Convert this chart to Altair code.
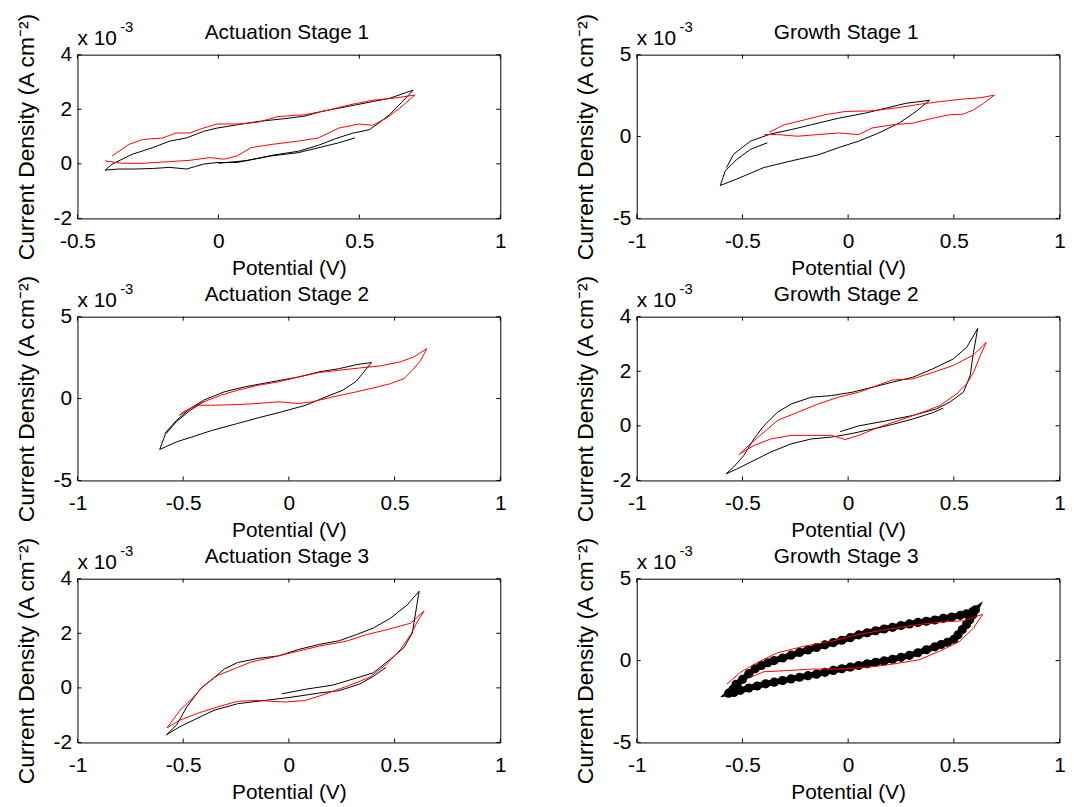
import altair as alt
import pandas as pd

FONT = "Liberation Sans"

# ---------------- data (current density in units of 1e-3 A cm^-2) ----------------
A1_BLACK_V = [0.484, 0.427, 0.355, 0.283, 0.187, 0.115, 0.067, -0.005, -0.053, -0.113, -0.173, -0.233, -0.293, -0.353, -0.402,
              -0.377, -0.306, -0.234, -0.173, -0.113, -0.053, -0.005, 0.067, 0.139, 0.247, 0.307, 0.367, 0.427, 0.487, 0.547, 0.607, 0.691,
              0.650, 0.607, 0.570, 0.535, 0.475, 0.415, 0.355, 0.283, 0.200, 0.100, 0.000]
A1_BLACK_J = [0.95, 0.77, 0.59, 0.41, 0.29, 0.15, 0.05, 0.05, -0.01, -0.19, -0.13, -0.17, -0.19, -0.19, -0.23,
              -0.01, 0.35, 0.59, 0.83, 0.95, 1.19, 1.31, 1.43, 1.55, 1.67, 1.75, 1.92, 2.04, 2.16, 2.28, 2.40, 2.70,
              2.25, 1.80, 1.50, 1.25, 1.12, 0.92, 0.68, 0.46, 0.33, 0.12, 0.02]
A1_RED_V = [-0.377, -0.318, -0.270, -0.198, -0.150, -0.101, -0.053, -0.005, 0.067, 0.139, 0.210, 0.307, 0.378, 0.474, 0.547, 0.619, 0.697,
            0.643, 0.595, 0.547, 0.499, 0.427, 0.355, 0.283, 0.187, 0.115, 0.067, 0.019, -0.029, -0.101, -0.173, -0.270, -0.342, -0.402]
A1_RED_J = [0.29, 0.71, 0.89, 0.95, 1.13, 1.13, 1.31, 1.46, 1.46, 1.52, 1.73, 1.80, 1.94, 2.18, 2.33, 2.40, 2.52,
            2.04, 1.67, 1.41, 1.46, 1.31, 0.95, 0.83, 0.71, 0.59, 0.29, 0.17, 0.23, 0.13, 0.08, 0.02, 0.02, 0.11]

G1_BLACK_V = [-0.382, -0.462, -0.526, -0.581, -0.605, -0.526, -0.398, -0.270, -0.142, -0.046, 0.050, 0.145, 0.241, 0.321, 0.385,
              0.273, 0.177, 0.081, -0.046, -0.174, -0.270, -0.366, -0.462, -0.542, -0.575]
G1_BLACK_J = [-0.38, -0.78, -1.39, -2.09, -2.99, -2.59, -1.89, -1.49, -1.12, -0.68, -0.28, 0.22, 0.82, 1.53, 2.21,
              2.03, 1.73, 1.43, 1.12, 0.72, 0.42, 0.16, -0.28, -1.08, -1.90]
G1_RED_V = [-0.374, -0.302, -0.206, -0.110, -0.014, 0.113, 0.241, 0.337, 0.433, 0.529, 0.625, 0.692,
            0.641, 0.593, 0.545, 0.481, 0.401, 0.305, 0.209, 0.113, 0.050, -0.046, -0.142, -0.238, -0.334, -0.398]
G1_RED_J = [0.26, 0.72, 1.02, 1.33, 1.53, 1.57, 1.77, 1.97, 2.13, 2.27, 2.37, 2.53,
            2.03, 1.63, 1.37, 1.33, 1.12, 0.82, 0.72, 0.52, 0.12, 0.22, 0.12, 0.02, 0.12, 0.12]

A2_BLACK_V = [-0.403, -0.467, -0.531, -0.585, -0.611, -0.531, -0.467, -0.370, -0.242, -0.146, -0.034, 0.079, 0.175, 0.255, 0.319, 0.391,
              0.319, 0.239, 0.143, 0.047, -0.082, -0.210, -0.306, -0.403, -0.467, -0.531, -0.587]
A2_BLACK_J = [-0.20, -0.72, -1.40, -2.20, -3.11, -2.64, -2.38, -1.97, -1.52, -1.18, -0.81, -0.41, 0.10, 0.51, 1.06, 2.20,
              2.07, 1.83, 1.63, 1.32, 1.02, 0.71, 0.41, -0.10, -0.61, -1.32, -2.13]
A2_RED_V = [-0.518, -0.467, -0.403, -0.322, -0.242, -0.146, -0.050, 0.047, 0.143, 0.239, 0.335, 0.431, 0.527, 0.591, 0.653,
            0.624, 0.584, 0.544, 0.480, 0.399, 0.319, 0.207, 0.111, 0.047, -0.050, -0.146, -0.242, -0.370, -0.435, -0.499, -0.518]
A2_RED_J = [-1.02, -0.61, -0.20, 0.20, 0.51, 0.81, 1.02, 1.32, 1.59, 1.73, 1.87, 1.99, 2.24, 2.54, 3.05,
            2.34, 1.73, 1.22, 0.91, 0.65, 0.41, 0.10, -0.20, -0.30, -0.20, -0.30, -0.37, -0.41, -0.41, -0.81, -1.02]

G2_BLACK_V = [-0.038, 0.050, 0.177, 0.305, 0.417, 0.481, 0.545, 0.577, 0.593, 0.613,
              0.561, 0.497, 0.401, 0.305, 0.209, 0.113, 0.018, -0.078, -0.174, -0.270, -0.334, -0.398, -0.446, -0.494, -0.542, -0.578,
              -0.526, -0.462, -0.366, -0.270, -0.174, -0.078, 0.018, 0.113, 0.209, 0.305, 0.400, 0.450]
G2_BLACK_J = [-0.21, 0.00, 0.18, 0.38, 0.62, 0.87, 1.23, 1.84, 2.70, 3.57,
              2.88, 2.45, 2.09, 1.78, 1.60, 1.41, 1.23, 1.11, 1.05, 0.80, 0.50, 0.01, -0.48, -1.09, -1.51, -1.76,
              -1.58, -1.33, -0.96, -0.66, -0.48, -0.41, -0.28, -0.12, 0.05, 0.25, 0.48, 0.65]
G2_RED_V = [-0.518, -0.462, -0.398, -0.334, -0.238, -0.142, -0.046, 0.050, 0.145, 0.209, 0.305, 0.401, 0.497, 0.593, 0.653,
            0.625, 0.593, 0.561, 0.513, 0.433, 0.353, 0.241, 0.145, 0.050, -0.014, -0.078, -0.174, -0.270, -0.366, -0.446, -0.510]
G2_RED_J = [-1.06, -0.66, -0.23, 0.20, 0.50, 0.80, 1.05, 1.23, 1.50, 1.68, 1.72, 1.96, 2.21, 2.60, 3.06,
            2.57, 1.96, 1.54, 1.17, 0.74, 0.50, 0.20, -0.05, -0.35, -0.50, -0.35, -0.35, -0.35, -0.48, -0.72, -1.02]

A3_BLACK_V = [-0.034, 0.079, 0.207, 0.319, 0.399, 0.480, 0.544, 0.584, 0.616,
              0.560, 0.480, 0.399, 0.319, 0.239, 0.143, 0.047, -0.050, -0.146, -0.242, -0.306, -0.370, -0.419, -0.483, -0.531, -0.579,
              -0.515, -0.435, -0.354, -0.242, -0.114, 0.014, 0.143, 0.239, 0.335, 0.399, 0.460]
A3_BLACK_J = [-0.22, -0.05, 0.10, 0.36, 0.55, 1.05, 1.47, 2.01, 3.54,
              3.04, 2.55, 2.19, 1.95, 1.73, 1.59, 1.41, 1.17, 1.08, 0.93, 0.69, 0.27, -0.04, -0.70, -1.36, -1.72,
              -1.42, -1.12, -0.82, -0.58, -0.46, -0.34, -0.19, -0.10, 0.14, 0.42, 0.75]
A3_RED_V = [-0.576, -0.515, -0.451, -0.403, -0.338, -0.242, -0.178, -0.082, 0.014, 0.143, 0.271, 0.367, 0.463, 0.576, 0.640,
            0.608, 0.576, 0.528, 0.463, 0.383, 0.303, 0.175, 0.079, -0.018, -0.146, -0.242, -0.338, -0.435, -0.515, -0.576]
A3_RED_J = [-1.46, -0.82, -0.34, 0.08, 0.45, 0.75, 0.95, 1.11, 1.29, 1.53, 1.71, 1.95, 2.13, 2.37, 2.82,
            2.43, 1.95, 1.41, 0.87, 0.39, 0.14, -0.22, -0.46, -0.52, -0.46, -0.49, -0.70, -0.94, -1.18, -1.46]

G3_BLACK_V = [-0.530, -0.500, -0.470, -0.440, -0.410, -0.380, -0.350, -0.310, -0.270, -0.230, -0.190, -0.150, -0.110, -0.070, -0.030,
              0.010, 0.050, 0.090, 0.130, 0.170, 0.210, 0.250, 0.290, 0.330, 0.370, 0.410, 0.450, 0.490, 0.530, 0.560, 0.590, 0.602,
              0.590, 0.575, 0.560, 0.540, 0.520, 0.500, 0.470, 0.440, 0.410, 0.370, 0.330, 0.290, 0.250, 0.210, 0.170, 0.130, 0.090,
              0.050, 0.010, -0.030, -0.070, -0.110, -0.150, -0.190, -0.230, -0.270, -0.310, -0.350, -0.390, -0.430, -0.470, -0.510,
              -0.540, -0.565, -0.545, -0.525]
G3_BLACK_J = [-1.45, -1.15, -0.80, -0.50, -0.30, -0.13, 0.00, 0.16, 0.33, 0.50, 0.65, 0.80, 0.96, 1.10, 1.24,
              1.40, 1.57, 1.70, 1.82, 1.93, 2.03, 2.14, 2.24, 2.33, 2.40, 2.48, 2.58, 2.66, 2.76, 2.86, 3.00, 3.10,
              2.80, 2.50, 2.20, 1.90, 1.58, 1.30, 1.12, 0.98, 0.84, 0.66, 0.48, 0.32, 0.20, 0.08, -0.02, -0.10, -0.20,
              -0.30, -0.40, -0.50, -0.60, -0.72, -0.83, -0.92, -1.02, -1.12, -1.22, -1.32, -1.42, -1.55, -1.68, -1.82,
              -1.95, -1.99, -1.75, -1.55]
G3_RED_V = [-0.573, -0.510, -0.430, -0.334, -0.206, -0.078, 0.050, 0.177, 0.305, 0.433, 0.545, 0.637,
            0.593, 0.529, 0.433, 0.337, 0.209, 0.081, -0.046, -0.174, -0.302, -0.398, -0.462]
G3_RED_J = [-1.43, -0.72, -0.12, 0.48, 0.88, 1.18, 1.59, 1.89, 2.15, 2.35, 2.43, 2.83,
            1.99, 1.18, 0.58, 0.05, -0.22, -0.42, -0.52, -0.52, -0.62, -0.68, -1.02]

TITLES = ["Actuation Stage 1", "Growth Stage 1", "Actuation Stage 2",
          "Growth Stage 2", "Actuation Stage 3", "Growth Stage 3"]
X_TICKS_A1 = [-0.5, 0, 0.5, 1]
X_TICKS = [-1, -0.5, 0, 0.5, 1]
Y_TICKS_4 = [-2, 0, 2, 4]
Y_TICKS_5 = [-5, 0, 5]
X_TITLE = "Potential (V)"
Y_TITLE = "Current Density (A cm\u207b\u00b2)"
MULT_BASE = ["x 10"]
MULT_EXP = ["-3"]

W = 426
H = 165
RED = "#ff0000"


def series_df(v, j):
    return pd.DataFrame({"V": v, "J": j, "i": list(range(len(v)))})


def text_layer(txt, size, x, y, align):
    return alt.Chart(pd.DataFrame({"t": [txt]})).mark_text(
        align=align, baseline="alphabetic", fontSize=size, font=FONT, color="black"
    ).encode(text="t:N", x=alt.value(x), y=alt.value(y))


def panel(title, xdom, xticks, ydom, yticks, blacks, reds, dots=None):
    X = alt.X("V:Q", scale=alt.Scale(domain=xdom, nice=False, zero=False),
              axis=alt.Axis(values=xticks, title=X_TITLE, labelExpr="'' + datum.value",
                            labelFlush=False, labelPadding=12, titlePadding=6.5,
                            titleFontSize=21, ticks=False, domain=False, grid=False))
    Y = alt.Y("J:Q", scale=alt.Scale(domain=ydom, nice=False, zero=False),
              axis=alt.Axis(values=yticks, title=Y_TITLE, labelExpr="'' + datum.value",
                            labelPadding=6, titlePadding=15, titleFontSize=23,
                            ticks=False, domain=False, grid=False))
    layers = []
    if dots is not None:
        ddf = series_df(*dots)
        layers.append(alt.Chart(ddf).mark_line(color="black", strokeWidth=6).encode(x=X, y=Y, order="i:Q"))
        layers.append(alt.Chart(ddf).mark_circle(color="black", size=85, opacity=1).encode(x=X, y=Y))
    for v, j in blacks:
        layers.append(alt.Chart(series_df(v, j)).mark_line(color="black", strokeWidth=1)
                      .encode(x=X, y=Y, order="i:Q"))
    for v, j in reds:
        layers.append(alt.Chart(series_df(v, j)).mark_line(color=RED, strokeWidth=1)
                      .encode(x=X, y=Y, order="i:Q"))
    xt = pd.DataFrame({"V": xticks})
    yt = pd.DataFrame({"J": yticks})
    layers.append(alt.Chart(xt).mark_rule(color="black", strokeWidth=1)
                  .encode(x=X, y=alt.value(H), y2=alt.value(H - 4)))
    layers.append(alt.Chart(xt).mark_rule(color="black", strokeWidth=1)
                  .encode(x=X, y=alt.value(0), y2=alt.value(4)))
    layers.append(alt.Chart(yt).mark_rule(color="black", strokeWidth=1)
                  .encode(y=Y, x=alt.value(0), x2=alt.value(4)))
    layers.append(alt.Chart(yt).mark_rule(color="black", strokeWidth=1)
                  .encode(y=Y, x=alt.value(W), x2=alt.value(W - 4)))
    layers.append(text_layer(MULT_BASE[0], 21, 0, -10, "left"))
    layers.append(text_layer(MULT_EXP[0], 15, 43, -23, "left"))
    layers.append(text_layer(title, 21, W / 2 - 2, -16, "center"))
    return alt.layer(*layers).properties(width=W, height=H)


panels = [
    panel(TITLES[0], [-0.5, 1], X_TICKS_A1, [-2, 4], Y_TICKS_4,
          [(A1_BLACK_V, A1_BLACK_J)], [(A1_RED_V, A1_RED_J)]),
    panel(TITLES[1], [-1, 1], X_TICKS, [-5, 5], Y_TICKS_5,
          [(G1_BLACK_V, G1_BLACK_J)], [(G1_RED_V, G1_RED_J)]),
    panel(TITLES[2], [-1, 1], X_TICKS, [-5, 5], Y_TICKS_5,
          [(A2_BLACK_V, A2_BLACK_J)], [(A2_RED_V, A2_RED_J)]),
    panel(TITLES[3], [-1, 1], X_TICKS, [-2, 4], Y_TICKS_4,
          [(G2_BLACK_V, G2_BLACK_J)], [(G2_RED_V, G2_RED_J)]),
    panel(TITLES[4], [-1, 1], X_TICKS, [-2, 4], Y_TICKS_4,
          [(A3_BLACK_V, A3_BLACK_J)], [(A3_RED_V, A3_RED_J)]),
    panel(TITLES[5], [-1, 1], X_TICKS, [-5, 5], Y_TICKS_5,
          [], [(G3_RED_V, G3_RED_J)], dots=(G3_BLACK_V, G3_BLACK_J)),
]

chart = alt.concat(*panels, columns=2, spacing={"row": 99, "column": 137.5}, bounds="flush").properties(
    padding={"left": 6, "top": 1, "right": 0, "bottom": 0}, background="white"
).configure_view(stroke="black", strokeWidth=1).configure_axis(
    labelFont=FONT, titleFont=FONT, labelFontSize=21, labelColor="black",
    titleColor="black", titleFontWeight="normal"
)

chart.save("out.html", embed_options={"renderer": "svg", "actions": False})
